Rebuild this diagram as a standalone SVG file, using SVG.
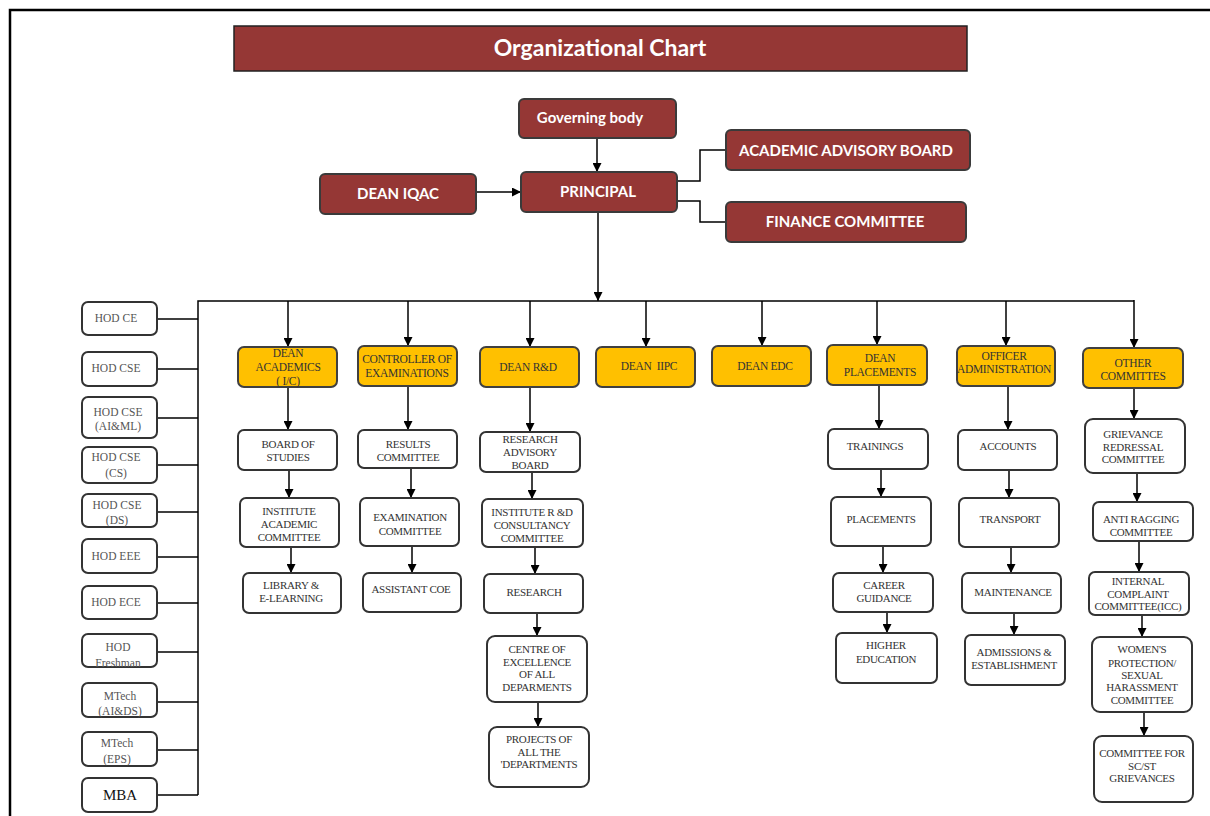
<svg xmlns="http://www.w3.org/2000/svg" width="1210" height="816" viewBox="0 0 1210 816">
<defs>
<marker id="ah" markerUnits="userSpaceOnUse" markerWidth="9" markerHeight="9" refX="9" refY="4.5" orient="auto">
<path d="M0,0 L9,4.5 L0,9 z" fill="#000"/>
</marker>
<style>
.mb{fill:#953735;stroke:#3a3a3a;stroke-width:2}
.yb{fill:#FFC000;stroke:#404040;stroke-width:2}
.wb{fill:#fff;stroke:#333;stroke-width:2}
.mt{font-family:Lato,"Open Sans",sans-serif;font-weight:bold;font-size:15px;fill:#fff;text-anchor:middle}
.yt{font-family:"Liberation Serif",serif;font-size:11.5px;fill:#333;text-anchor:middle;letter-spacing:-0.3px;white-space:pre}
.wt{font-family:"Liberation Serif",serif;font-size:11px;fill:#333;text-anchor:middle;letter-spacing:-0.3px}
.ht{font-family:"Liberation Serif",serif;font-size:11.5px;fill:#555;text-anchor:middle}
.ln{fill:none;stroke:#000;stroke-width:1.5}
.ar{fill:none;stroke:#000;stroke-width:1.5;marker-end:url(#ah)}
</style>
</defs>
<rect width="1210" height="816" fill="#fff"/>
<path d="M10,816 V10 H1210" fill="none" stroke="#000" stroke-width="2.5"/>

<g id="title">
<rect x="234" y="26" width="733" height="45" fill="#953735" stroke="#222" stroke-width="1.5"/>
<text x="600" y="56" font-family="Lato,'Open Sans',sans-serif" font-weight="bold" font-size="23" fill="#fff" text-anchor="middle">Organizational Chart</text>
</g>

<g id="connectors">
<line class="ar" x1="597" y1="138" x2="597" y2="172"/>
<line class="ar" x1="476" y1="192" x2="521" y2="192"/>
<path class="ln" d="M677,181 H700 V150 H726"/>
<path class="ln" d="M677,201 H700 V222 H726"/>
<line class="ar" x1="598" y1="212" x2="598" y2="301"/>
<path class="ln" d="M198,795 V301 H1134"/>
<line class="ln" x1="157" y1="319" x2="198" y2="319"/>
<line class="ln" x1="157" y1="369" x2="198" y2="369"/>
<line class="ln" x1="157" y1="418" x2="198" y2="418"/>
<line class="ln" x1="157" y1="465" x2="198" y2="465"/>
<line class="ln" x1="157" y1="512" x2="198" y2="512"/>
<line class="ln" x1="157" y1="557" x2="198" y2="557"/>
<line class="ln" x1="157" y1="603" x2="198" y2="603"/>
<line class="ln" x1="157" y1="652" x2="198" y2="652"/>
<line class="ln" x1="157" y1="702" x2="198" y2="702"/>
<line class="ln" x1="157" y1="750" x2="198" y2="750"/>
<line class="ln" x1="157" y1="795" x2="198" y2="795"/>
<line class="ar" x1="288" y1="301" x2="288" y2="347"/>
<line class="ar" x1="408" y1="301" x2="408" y2="346"/>
<line class="ar" x1="530" y1="301" x2="530" y2="347"/>
<line class="ar" x1="646" y1="301" x2="646" y2="347"/>
<line class="ar" x1="762" y1="301" x2="762" y2="346"/>
<line class="ar" x1="877" y1="301" x2="877" y2="345"/>
<line class="ar" x1="1006" y1="301" x2="1006" y2="346"/>
<line class="ar" x1="1134" y1="300" x2="1134" y2="348"/>
<line class="ar" x1="288" y1="387" x2="288" y2="430"/>
<line class="ar" x1="289" y1="470" x2="289" y2="498"/>
<line class="ar" x1="291" y1="547" x2="291" y2="573"/>
<line class="ar" x1="408" y1="386" x2="408" y2="430"/>
<line class="ar" x1="411" y1="468" x2="411" y2="498"/>
<line class="ar" x1="412" y1="546" x2="412" y2="573"/>
<line class="ar" x1="530" y1="387" x2="530" y2="432"/>
<line class="ar" x1="532" y1="472" x2="532" y2="499"/>
<line class="ar" x1="535" y1="547" x2="535" y2="574"/>
<line class="ar" x1="537" y1="613" x2="537" y2="636"/>
<line class="ar" x1="538" y1="702" x2="538" y2="727"/>
<line class="ar" x1="879" y1="385" x2="879" y2="429"/>
<line class="ar" x1="881" y1="469" x2="881" y2="497"/>
<line class="ar" x1="883" y1="546" x2="883" y2="573"/>
<line class="ar" x1="887" y1="612" x2="887" y2="633"/>
<line class="ar" x1="1008" y1="386" x2="1008" y2="430"/>
<line class="ar" x1="1009" y1="470" x2="1009" y2="498"/>
<line class="ar" x1="1011" y1="547" x2="1011" y2="573"/>
<line class="ar" x1="1014" y1="613" x2="1014" y2="635"/>
<line class="ar" x1="1134" y1="388" x2="1134" y2="419"/>
<line class="ar" x1="1137" y1="473" x2="1137" y2="502"/>
<line class="ar" x1="1139" y1="541" x2="1139" y2="572"/>
<line class="ar" x1="1142" y1="615" x2="1142" y2="637"/>
<line class="ar" x1="1144" y1="712" x2="1144" y2="736"/>
</g>

<g id="governing-body"><rect class="mb" x="519" y="99" width="157" height="39" rx="5"/><text class="mt" x="590" y="123">Governing body</text></g>
<g id="principal"><rect class="mb" x="521" y="172" width="156" height="40" rx="5"/><text class="mt" x="598" y="197">PRINCIPAL</text></g>
<g id="dean-iqac"><rect class="mb" x="320" y="174" width="156" height="40" rx="5"/><text class="mt" x="398" y="199">DEAN IQAC</text></g>
<g id="academic-advisory-board"><rect class="mb" x="726" y="130" width="244" height="40" rx="5"/><text class="mt" x="846" y="156">ACADEMIC ADVISORY BOARD</text></g>
<g id="finance-committee"><rect class="mb" x="726" y="202" width="240" height="40" rx="5"/><text class="mt" x="845" y="227">FINANCE COMMITTEE</text></g>

<g id="hod-ce"><rect class="wb" x="82" y="302" width="75" height="33" rx="6"/><text class="ht" x="116" y="322">HOD CE</text></g>
<g id="hod-cse"><rect class="wb" x="82" y="352" width="75" height="34" rx="6"/><text class="ht" x="116" y="372">HOD CSE</text></g>
<g id="hod-cse-aiml"><rect class="wb" x="82" y="397" width="75" height="41" rx="6"/><text class="ht" x="118" y="416">HOD CSE</text><text class="ht" x="118" y="430">(AI&amp;ML)</text></g>
<g id="hod-cse-cs"><rect class="wb" x="82" y="447" width="75" height="36" rx="6"/><text class="ht" x="116" y="461">HOD CSE</text><text class="ht" x="116" y="477">(CS)</text></g>
<g id="hod-cse-ds"><rect class="wb" x="82" y="494" width="75" height="33" rx="6"/><text class="ht" x="117" y="509">HOD CSE</text><text class="ht" x="117" y="524">(DS)</text></g>
<g id="hod-eee"><rect class="wb" x="82" y="539" width="75" height="34" rx="6"/><text class="ht" x="116" y="560">HOD EEE</text></g>
<g id="hod-ece"><rect class="wb" x="82" y="586" width="75" height="33" rx="6"/><text class="ht" x="116" y="606">HOD ECE</text></g>
<g id="hod-freshman"><rect class="wb" x="82" y="634" width="75" height="33" rx="6"/><text class="ht" x="118" y="651">HOD</text><text class="ht" x="118" y="667">Freshman</text></g>
<g id="mtech-aids"><rect class="wb" x="82" y="683" width="75" height="34" rx="6"/><text class="ht" x="120" y="700">MTech</text><text class="ht" x="120" y="715">(AI&amp;DS)</text></g>
<g id="mtech-eps"><rect class="wb" x="82" y="732" width="75" height="34" rx="6"/><text class="ht" x="117" y="747">MTech</text><text class="ht" x="117" y="763">(EPS)</text></g>
<g id="mba"><rect class="wb" x="82" y="778" width="75" height="34" rx="6"/><text x="120" y="800" font-family="'Liberation Serif',serif" font-size="15" fill="#111" text-anchor="middle">MBA</text></g>

<g id="dean-academics"><rect class="yb" x="238" y="347" width="99" height="40" rx="6"/><text class="yt" x="288" y="357">DEAN</text><text class="yt" x="288" y="371">ACADEMICS</text><text class="yt" x="288" y="385">( I/C)</text></g>
<g id="controller-of-examinations"><rect class="yb" x="358" y="346" width="99" height="40" rx="6"/><text class="yt" x="407" y="363">CONTROLLER OF</text><text class="yt" x="407" y="377">EXAMINATIONS</text></g>
<g id="dean-rd"><rect class="yb" x="480" y="347" width="99" height="40" rx="6"/><text class="yt" x="528" y="371">DEAN R&amp;D</text></g>
<g id="dean-iipc"><rect class="yb" x="596" y="347" width="99" height="40" rx="6"/><text class="yt" x="649" y="370">DEAN  IIPC</text></g>
<g id="dean-edc"><rect class="yb" x="712" y="346" width="99" height="40" rx="6"/><text class="yt" x="765" y="370">DEAN EDC</text></g>
<g id="dean-placements"><rect class="yb" x="827" y="345" width="100" height="40" rx="6"/><text class="yt" x="880" y="362">DEAN</text><text class="yt" x="880" y="376">PLACEMENTS</text></g>
<g id="officer-administration"><rect class="yb" x="957" y="346" width="98" height="40" rx="6"/><text class="yt" x="1004" y="360">OFFICER</text><text class="yt" x="1004" y="373">ADMINISTRATION</text></g>
<g id="other-committes"><rect class="yb" x="1083" y="348" width="100" height="40" rx="6"/><text class="yt" x="1133" y="367">OTHER</text><text class="yt" x="1133" y="380">COMMITTES</text></g>

<g id="board-of-studies"><rect class="wb" x="238" y="430" width="99" height="40" rx="6"/><text class="wt" x="288" y="448">BOARD OF</text><text class="wt" x="288" y="461">STUDIES</text></g>
<g id="institute-academic-committee"><rect class="wb" x="240" y="498" width="99" height="49" rx="6"/><text class="wt" x="289" y="515">INSTITUTE</text><text class="wt" x="289" y="528">ACADEMIC</text><text class="wt" x="289" y="541">COMMITTEE</text></g>
<g id="library-elearning"><rect class="wb" x="243" y="573" width="98" height="40" rx="6"/><text class="wt" x="291" y="589">LIBRARY &amp;</text><text class="wt" x="291" y="602">E-LEARNING</text></g>

<g id="results-committee"><rect class="wb" x="358" y="430" width="99" height="38" rx="6"/><text class="wt" x="408" y="448">RESULTS</text><text class="wt" x="408" y="461">COMMITTEE</text></g>
<g id="examination-committee"><rect class="wb" x="360" y="498" width="99" height="48" rx="6"/><text class="wt" x="410" y="521">EXAMINATION</text><text class="wt" x="410" y="535">COMMITTEE</text></g>
<g id="assistant-coe"><rect class="wb" x="363" y="573" width="98" height="39" rx="6"/><text class="wt" x="411" y="593">ASSISTANT COE</text></g>

<g id="research-advisory-board"><rect class="wb" x="480" y="432" width="100" height="40" rx="6"/><text class="wt" x="530" y="443">RESEARCH</text><text class="wt" x="530" y="456">ADVISORY</text><text class="wt" x="530" y="469">BOARD</text></g>
<g id="institute-rd-consultancy"><rect class="wb" x="482" y="499" width="101" height="48" rx="6"/><text class="wt" x="532" y="516">INSTITUTE R &amp;D</text><text class="wt" x="532" y="529">CONSULTANCY</text><text class="wt" x="532" y="542">COMMITTEE</text></g>
<g id="research"><rect class="wb" x="484" y="574" width="99" height="39" rx="6"/><text class="wt" x="534" y="596">RESEARCH</text></g>
<g id="centre-of-excellence"><rect class="wb" x="487" y="636" width="100" height="66" rx="8"/><text class="wt" x="537" y="653">CENTRE OF</text><text class="wt" x="537" y="666">EXCELLENCE</text><text class="wt" x="537" y="678">OF ALL</text><text class="wt" x="537" y="691">DEPARMENTS</text></g>
<g id="projects"><rect class="wb" x="489" y="727" width="100" height="60" rx="8"/><text class="wt" x="539" y="743">PROJECTS OF</text><text class="wt" x="539" y="756">ALL THE</text><text class="wt" x="539" y="768">'DEPARTMENTS</text></g>

<g id="trainings"><rect class="wb" x="828" y="429" width="100" height="40" rx="6"/><text class="wt" x="875" y="450">TRAININGS</text></g>
<g id="placements"><rect class="wb" x="831" y="497" width="100" height="49" rx="6"/><text class="wt" x="881" y="523">PLACEMENTS</text></g>
<g id="career-guidance"><rect class="wb" x="833" y="573" width="100" height="39" rx="6"/><text class="wt" x="884" y="589">CAREER</text><text class="wt" x="884" y="602">GUIDANCE</text></g>
<g id="higher-education"><rect class="wb" x="836" y="633" width="101" height="50" rx="6"/><text class="wt" x="886" y="649">HIGHER</text><text class="wt" x="886" y="663">EDUCATION</text></g>

<g id="accounts"><rect class="wb" x="958" y="430" width="99" height="40" rx="6"/><text class="wt" x="1008" y="450">ACCOUNTS</text></g>
<g id="transport"><rect class="wb" x="959" y="498" width="100" height="49" rx="6"/><text class="wt" x="1010" y="523">TRANSPORT</text></g>
<g id="maintenance"><rect class="wb" x="962" y="573" width="99" height="40" rx="6"/><text class="wt" x="1013" y="596">MAINTENANCE</text></g>
<g id="admissions-establishment"><rect class="wb" x="965" y="635" width="100" height="50" rx="6"/><text class="wt" x="1014" y="656">ADMISSIONS &amp;</text><text class="wt" x="1014" y="669">ESTABLISHMENT</text></g>

<g id="grievance-redressal"><rect class="wb" x="1085" y="419" width="100" height="54" rx="8"/><text class="wt" x="1133" y="438">GRIEVANCE</text><text class="wt" x="1133" y="451">REDRESSAL</text><text class="wt" x="1133" y="463">COMMITTEE</text></g>
<g id="anti-ragging"><rect class="wb" x="1093" y="502" width="100" height="39" rx="6"/><text class="wt" x="1141" y="523">ANTI RAGGING</text><text class="wt" x="1141" y="536">COMMITTEE</text></g>
<g id="internal-complaint"><rect class="wb" x="1089" y="572" width="100" height="43" rx="6"/><text class="wt" x="1138" y="585">INTERNAL</text><text class="wt" x="1138" y="598">COMPLAINT</text><text class="wt" x="1138" y="610">COMMITTEE(ICC)</text></g>
<g id="womens-protection"><rect class="wb" x="1092" y="637" width="100" height="75" rx="8"/><text class="wt" x="1142" y="653">WOMEN'S</text><text class="wt" x="1142" y="667">PROTECTION/</text><text class="wt" x="1142" y="679">SEXUAL</text><text class="wt" x="1142" y="691">HARASSMENT</text><text class="wt" x="1142" y="704">COMMITTEE</text></g>
<g id="sc-st-grievances"><rect class="wb" x="1094" y="736" width="99" height="66" rx="8"/><text class="wt" x="1142" y="757">COMMITTEE FOR</text><text class="wt" x="1142" y="770">SC/ST</text><text class="wt" x="1142" y="782">GRIEVANCES</text></g>
</svg>
